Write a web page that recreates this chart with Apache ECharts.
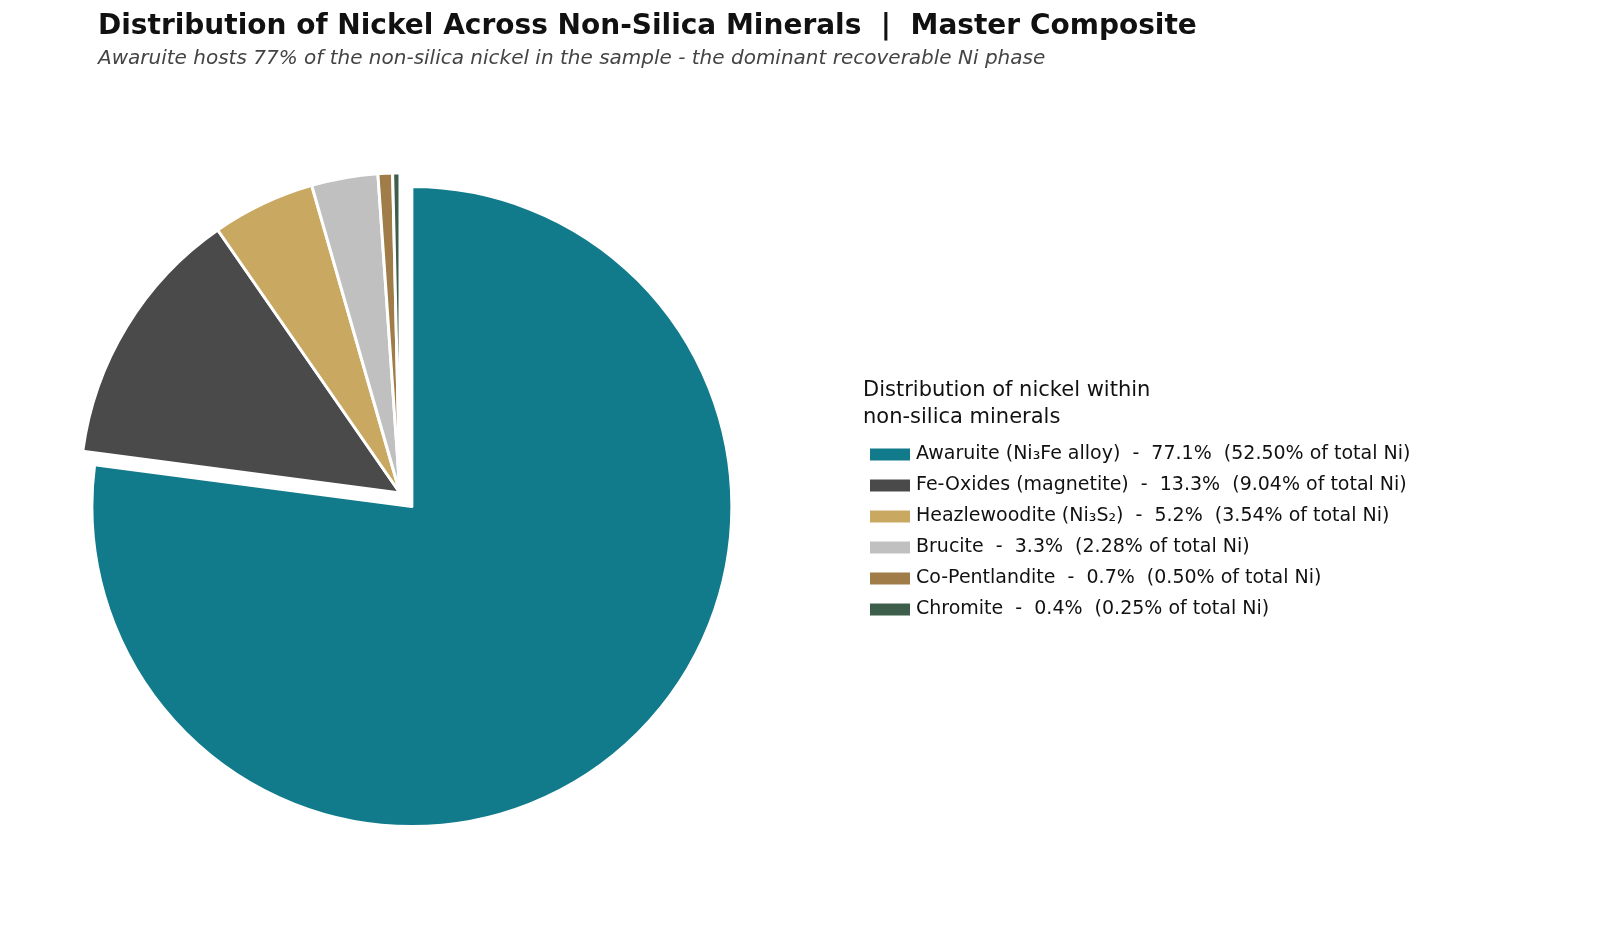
<!DOCTYPE html>
<html><head><meta charset="utf-8">
<script src="https://cdn.jsdelivr.net/npm/echarts@6/dist/echarts.min.js"></script>
<style>html,body{margin:0;background:#fff}#c{width:1600px;height:943px}</style>
</head><body><div id="c"></div>
<script>
const minerals = ['Awaruite (Ni₃Fe alloy)','Fe-Oxides (magnetite)','Heazlewoodite (Ni₃S₂)','Brucite','Co-Pentlandite','Chromite'];
const totalNiPct = [52.50, 9.04, 3.54, 2.28, 0.50, 0.25];
const colors = ['#117a8b','#4a4a4a','#c9a862','#c0c0c0','#a07c48','#3d5e4a'];
const sum = totalNiPct.reduce((a,b)=>a+b,0);
const legendText = {};
minerals.forEach((m,i)=>{legendText[m]=m+'  -  '+(totalNiPct[i]/sum*100).toFixed(1)+'%  ('+totalNiPct[i].toFixed(2)+'% of total Ni)';});
const chart = echarts.init(document.getElementById('c'));
chart.setOption({
  animation:false,
  title:{text:'Distribution of Nickel Across Non-Silica Minerals  |  Master Composite',
    subtext:'Awaruite hosts 77% of the non-silica nickel in the sample - the dominant recoverable Ni phase',
    left:93, top:8, itemGap:8,
    textStyle:{fontFamily:'DejaVu Sans',fontSize:28,fontWeight:'bold',color:'#111'},
    subtextStyle:{fontFamily:'DejaVu Sans',fontSize:20,fontStyle:'italic',color:'#444'}},
  graphic:[{type:'text',left:863,top:377,style:{text:'Distribution of nickel within\nnon-silica minerals',font:'21px DejaVu Sans',fill:'#111',lineHeight:27}}],
  legend:{orient:'vertical',left:863,top:440,itemWidth:42,itemHeight:14,itemGap:12,icon:'rect',
    selectedMode:false,
    textStyle:{fontFamily:'DejaVu Sans',fontSize:19,color:'#111'},
    formatter:n=>legendText[n]},
  series:[{type:'pie',center:[400,493],radius:[0,320],startAngle:90,clockwise:true,
    selectedMode:'single',selectedOffset:18,label:{show:false},labelLine:{show:false},
    itemStyle:{borderColor:'#fff',borderWidth:3},
    emphasis:{disabled:true},
    data:minerals.map((m,i)=>({name:m,value:totalNiPct[i],selected:i===0,itemStyle:{color:colors[i]}}))}]
});
</script></body></html>
